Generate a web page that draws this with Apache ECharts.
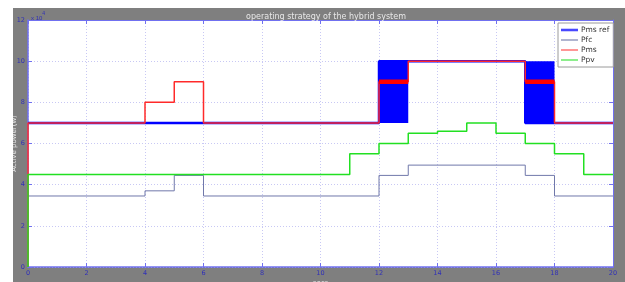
<!DOCTYPE html>
<html>
<head>
<meta charset="utf-8">
<script src="https://cdn.jsdelivr.net/npm/echarts@6/dist/echarts.min.js"></script>
<style>
  html, body { margin: 0; padding: 0; background: #fff; }
  #frame { position: absolute; left: 13px; top: 8px; width: 612px; height: 274px; background: #7f7f7f; }
  #chart { width: 612px; height: 274px; }
</style>
</head>
<body>
<div id="frame"><div id="chart"></div></div>
<script>
// step breakpoints (secs) and levels (x10^4 W), each level holds until the next time
const pmsRefTimes = [0, 12, 13, 17, 18, 20];
const pmsRefLevels = [7, 10, 10, 7, 7, 7];
const pfcTimes = [0, 4, 5, 6, 12, 13, 17, 18, 20];
const pfcLevels = [3.45, 3.7, 4.45, 3.45, 4.45, 4.95, 4.45, 3.45, 3.45];
const pmsTimes = [0, 0, 4, 5, 6, 12, 13, 17, 18, 20];
const pmsLevels = [0, 7, 8, 9, 7, 9, 10, 9, 7, 7];
const ppvTimes = [0, 0, 11, 12, 13, 14, 15, 16, 17, 18, 19, 20];
const ppvLevels = [0, 4.5, 5.5, 6, 6.5, 6.6, 7, 6.5, 6, 5.5, 4.5, 4.5];

// switching intervals where Pms ref chatters between low and high
const switchStart = [12, 17];
const switchEnd = [13, 18];
const switchLow = 7;
const switchHigh = 10;
const pmsSwitchLevel = 9;

const zip = (t, v) => t.map((x, i) => [x, v[i]]);

const pmsSwitchData = [];
switchStart.forEach((s, i) => {
  pmsSwitchData.push([s, pmsSwitchLevel], [switchEnd[i], pmsSwitchLevel], [null, null]);
});

const axisBlue = "#7070f0";
const labelBlue = "#3030b8";
const gridDots = { show: true, lineStyle: { color: "#c8c8f4", type: [1, 2], width: 1 } };
const thickIcon = "path://M0,0H20V3H0Z";
const thinIcon = "path://M0,0H20V1.3H0Z";

const chart = echarts.init(document.getElementById("chart"));
chart.setOption({
  animation: false,
  backgroundColor: "transparent",
  title: {
    text: "operating strategy of the hybrid system",
    left: 308, top: 0, textAlign: "center",
    textStyle: { color: "#e8e8e8", fontSize: 8, fontWeight: "normal", fontFamily: "DejaVu Sans" }
  },
  grid: {
    left: 15, top: 12, right: 12, bottom: 15, show: true, backgroundColor: "#fff", borderWidth: 0,
    containLabel: false, outerBoundsMode: "none"
  },
  legend: {
    data: [
      { name: "Pms ref", icon: thickIcon, itemStyle: { color: "#4848ff" } },
      { name: "Pfc", icon: thinIcon, itemStyle: { color: "#7078aa" } },
      { name: "Pms", icon: thinIcon, itemStyle: { color: "#ff4040" } },
      { name: "Ppv", icon: thinIcon, itemStyle: { color: "#30e030" } }
    ],
    orient: "vertical",
    left: 545, top: 15,
    backgroundColor: "#fff",
    borderColor: "#9a9a9a", borderWidth: 1, borderRadius: 0,
    padding: [3, 4, 3, 3],
    itemWidth: 17, itemHeight: 6, itemGap: 2,
    textStyle: { fontSize: 7.5, color: "#333", fontFamily: "DejaVu Sans", padding: [0, 0, 0, -2] }
  },
  xAxis: [
    {
      type: "value", min: 0, max: 20, interval: 2,
      name: "secs", nameLocation: "middle", nameGap: 13, nameMoveOverlap: false,
      nameTextStyle: { color: "#e8e8e8", fontSize: 7, fontFamily: "DejaVu Sans" },
      axisLine: { show: true, lineStyle: { color: axisBlue, width: 1.5 } },
      axisTick: { show: true, inside: true, length: 4, lineStyle: { color: axisBlue } },
      axisLabel: { color: labelBlue, fontSize: 6.5, margin: 3, fontFamily: "DejaVu Sans" },
      splitLine: gridDots
    },
    {
      type: "value", min: 0, max: 20, interval: 2, position: "top",
      axisLine: { show: true, onZero: false, lineStyle: { color: axisBlue, width: 1 } },
      axisTick: { show: true, inside: true, length: 4, lineStyle: { color: axisBlue } },
      axisLabel: { show: false }, splitLine: { show: false }
    }
  ],
  yAxis: [
    {
      type: "value", min: 0, max: 12, interval: 2,
      name: "Active power(w)", nameLocation: "middle", nameGap: 10, nameRotate: 90, nameMoveOverlap: false,
      nameTextStyle: { color: "#e8e8e8", fontSize: 7, fontFamily: "DejaVu Sans" },
      axisLine: { show: true, lineStyle: { color: axisBlue, width: 1.5 } },
      axisTick: { show: true, inside: true, length: 4, lineStyle: { color: axisBlue } },
      axisLabel: { color: labelBlue, fontSize: 6.5, margin: 3, fontFamily: "DejaVu Sans" },
      splitLine: gridDots
    },
    {
      type: "value", min: 0, max: 12, interval: 2, position: "right",
      axisLine: { show: true, onZero: false, lineStyle: { color: axisBlue, width: 1 } },
      axisTick: { show: true, inside: true, length: 4, lineStyle: { color: axisBlue } },
      axisLabel: { show: false }, splitLine: { show: false }
    }
  ],
  graphic: [{
    type: "text", left: 18, top: 3,
    style: {
      text: "{a|x 10}{b|4}", fill: labelBlue,
      rich: { a: { fontSize: 6, fill: labelBlue, padding: [5, 0, 0, 0] }, b: { fontSize: 5, fill: labelBlue, padding: [0, 0, 4, 0] } }
    }
  }],
  series: [
    {
      name: "Pms ref", type: "line", step: "end", symbol: "none",
      data: zip(pmsRefTimes, pmsRefLevels),
      lineStyle: { color: "#0000ff", width: 2.5 }, itemStyle: { color: "#4848ff" },
      markArea: {
        silent: true,
        itemStyle: { color: "#0000ff", opacity: 1 },
        data: switchStart.map((s, i) => [{ coord: [s, switchLow] }, { coord: [switchEnd[i], switchHigh] }])
      },
      z: 2
    },
    {
      name: "Pfc", type: "line", step: "end", symbol: "none",
      data: zip(pfcTimes, pfcLevels),
      lineStyle: { color: "#7078aa", width: 1 }, itemStyle: { color: "#7078aa" }, z: 3
    },
    {
      name: "Pms", type: "line", step: "end", symbol: "none",
      data: zip(pmsTimes, pmsLevels),
      lineStyle: { color: "#ff2a2a", width: 1.5 }, itemStyle: { color: "#ff4040" }, z: 4
    },
    {
      name: "Pms", type: "line", symbol: "none", connectNulls: false,
      data: pmsSwitchData,
      lineStyle: { color: "#ff0000", width: 4.5 }, itemStyle: { color: "#ff4040" }, z: 4
    },
    {
      name: "Ppv", type: "line", step: "end", symbol: "none",
      data: zip(ppvTimes, ppvLevels),
      lineStyle: { color: "#22e022", width: 1.5 }, itemStyle: { color: "#30e030" }, z: 5
    }
  ]
});
</script>
</body>
</html>
